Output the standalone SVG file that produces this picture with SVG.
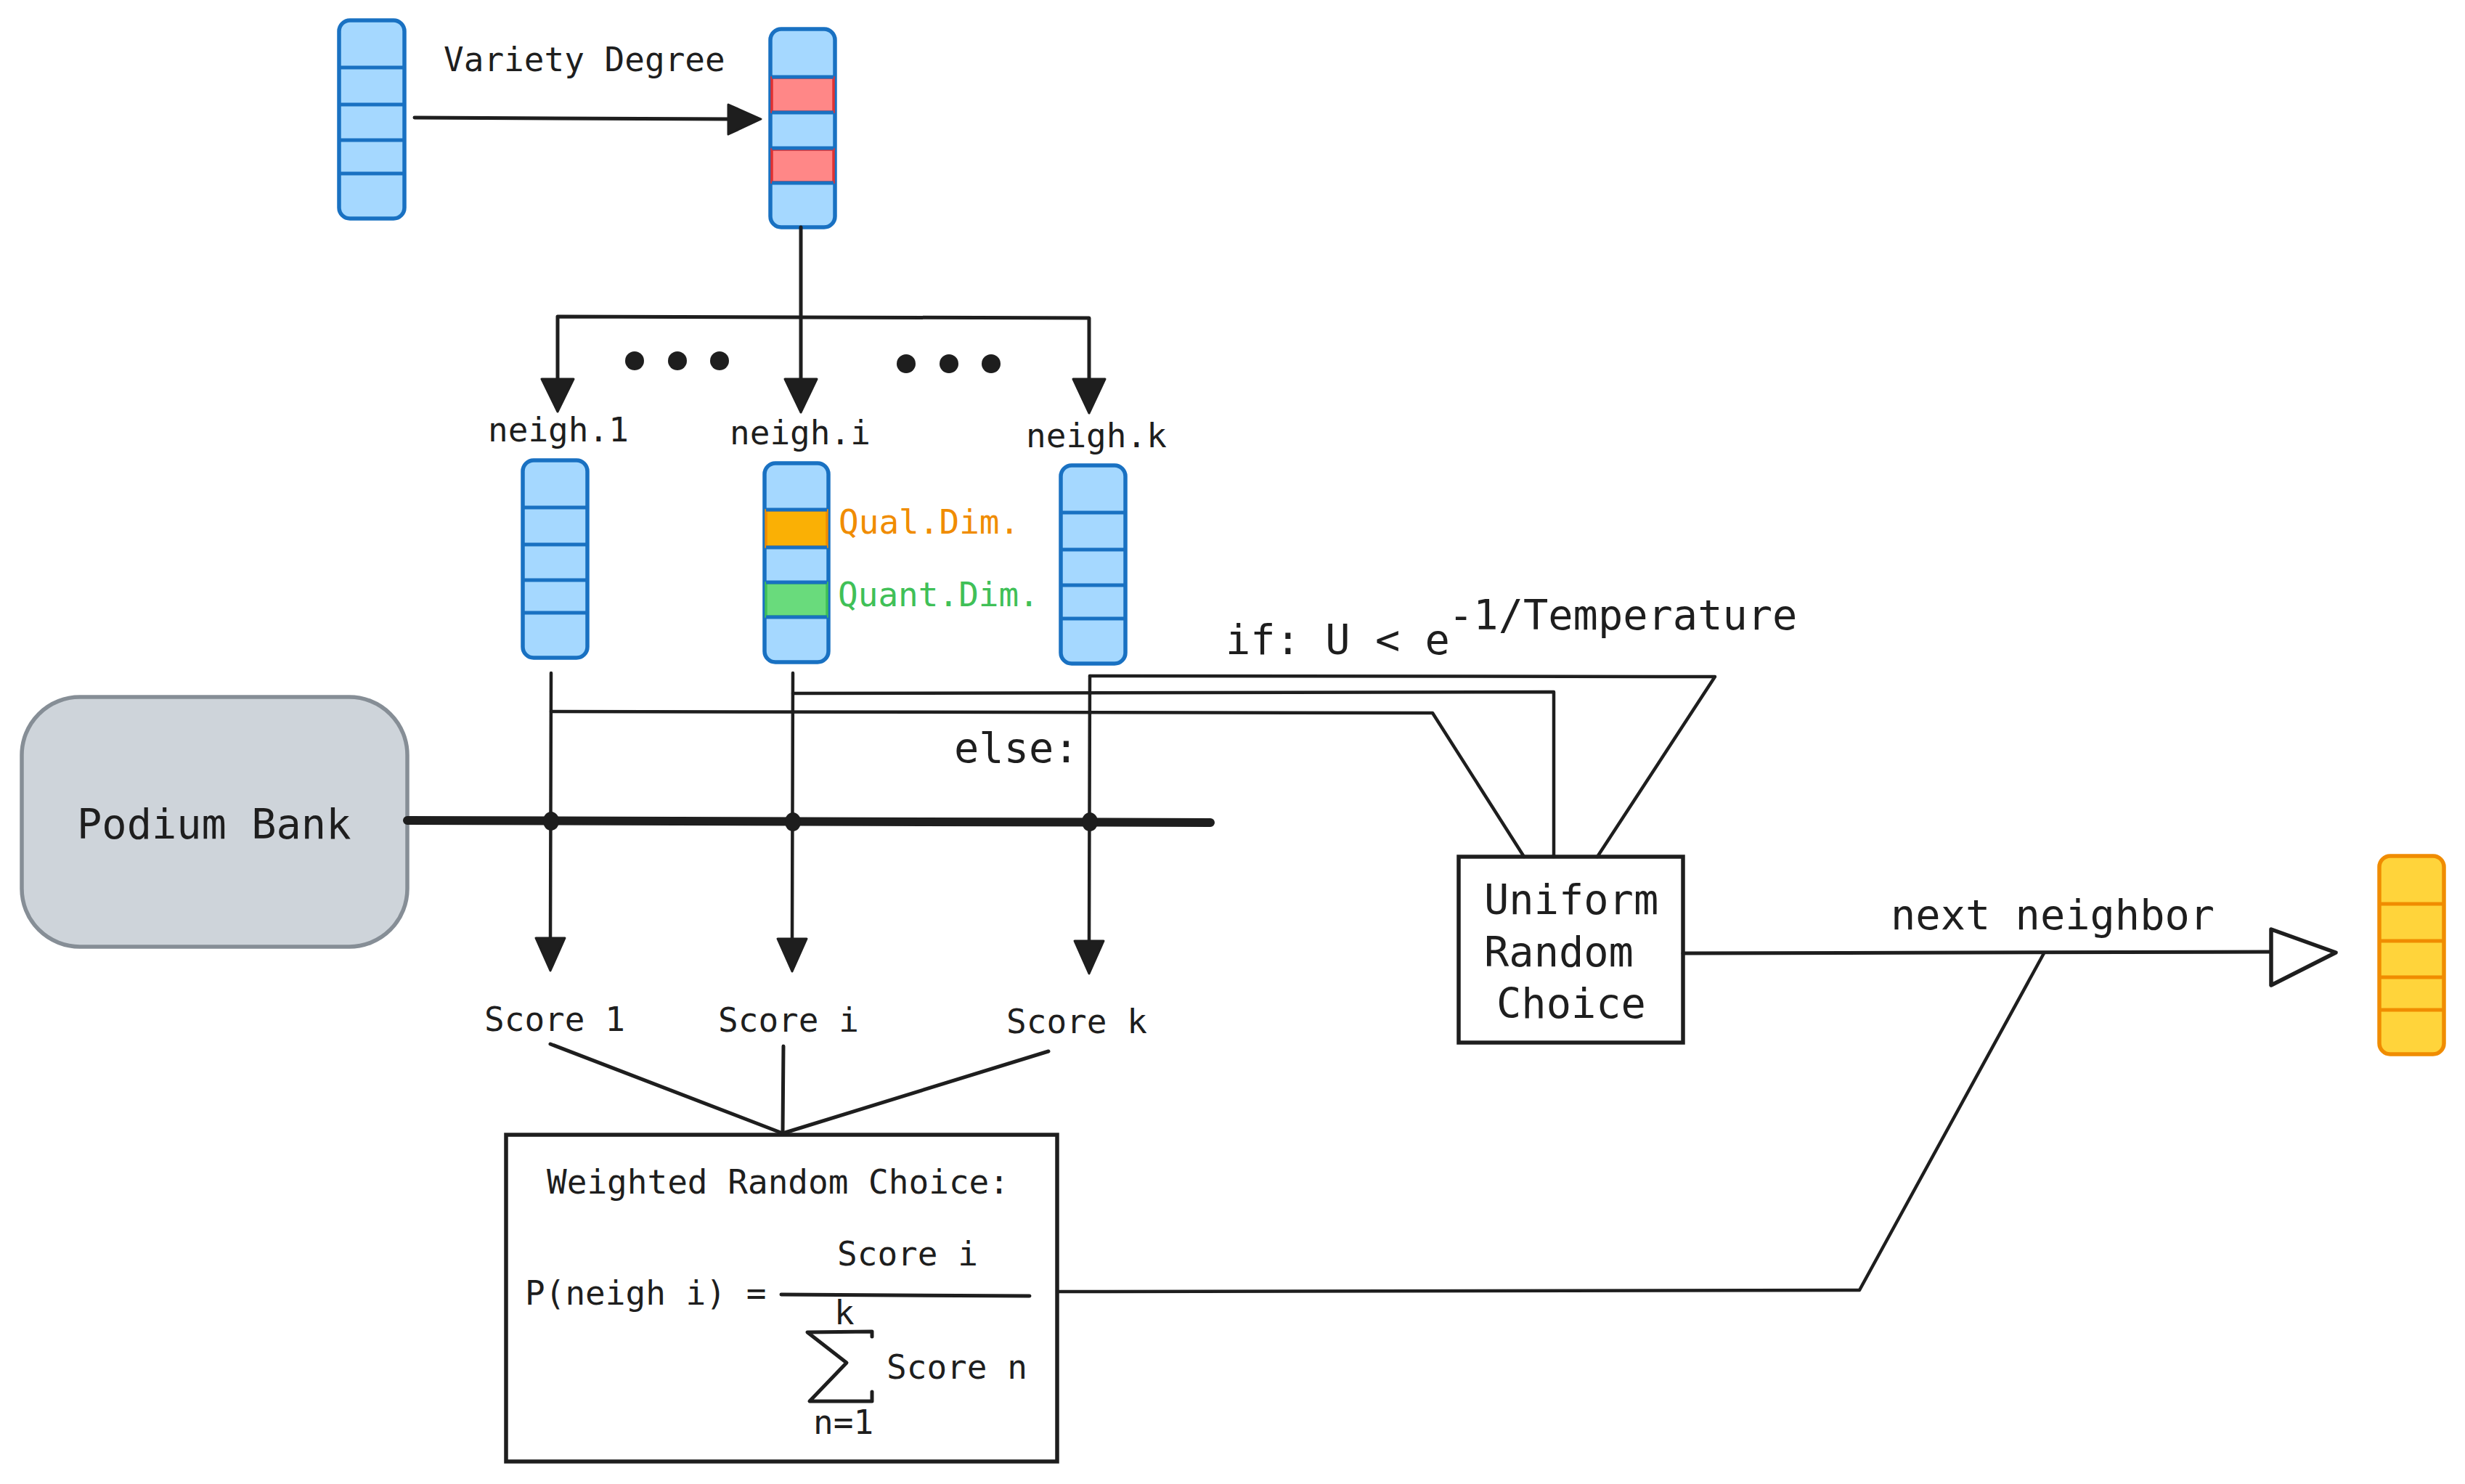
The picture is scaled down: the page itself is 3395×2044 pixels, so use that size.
<svg xmlns="http://www.w3.org/2000/svg" width="3395" height="2044" viewBox="0 0 3395 2044">
<style>
.t{font-family:"DejaVu Sans Mono","Liberation Mono",monospace;fill:#1e1e1e}
.s{font-size:46px}
.l{font-size:57px}
.vec{fill:#a5d8ff;stroke:#1971c2;stroke-width:5.5}
.div{stroke:#1971c2;stroke-width:5}
.ln{fill:none;stroke:#1e1e1e;stroke-width:5;stroke-linecap:round;stroke-linejoin:round}
.thin{fill:none;stroke:#1e1e1e;stroke-width:4.5;stroke-linecap:round;stroke-linejoin:round}
.head{fill:#1e1e1e;stroke:#1e1e1e;stroke-width:3;stroke-linejoin:round}
.box{fill:#ffffff;stroke:#1e1e1e;stroke-width:5.5}
</style>
<rect width="3395" height="2044" fill="#ffffff"/>

<g id="vec-input">
<rect class="vec" x="467" y="28" width="90" height="273" rx="15"/>
<line class="div" x1="469" y1="93" x2="555" y2="93"/>
<line class="div" x1="469" y1="144" x2="555" y2="144"/>
<line class="div" x1="469" y1="193" x2="555" y2="193"/>
<line class="div" x1="469" y1="239" x2="555" y2="239"/>
</g>

<g id="vec-variety">
<rect class="vec" x="1061" y="40" width="89" height="273" rx="15"/>
<rect x="1063" y="107" width="85" height="47" fill="#ff8787" stroke="#e03131" stroke-width="3.5"/>
<rect x="1063" y="206" width="85" height="45" fill="#ff8787" stroke="#e03131" stroke-width="3.5"/>
<line class="div" x1="1063" y1="106" x2="1148" y2="106"/>
<line class="div" x1="1063" y1="155" x2="1148" y2="155"/>
<line class="div" x1="1063" y1="204" x2="1148" y2="204"/>
<line class="div" x1="1063" y1="252" x2="1148" y2="252"/>
</g>

<g id="label-variety"><text class="t s" x="611" y="98">Variety Degree</text></g>

<g id="neigh-1">
<text class="t s" x="672" y="608">neigh.1</text>
<rect class="vec" x="720" y="634" width="89" height="272" rx="15"/>
<line class="div" x1="722" y1="699" x2="807" y2="699"/>
<line class="div" x1="722" y1="750" x2="807" y2="750"/>
<line class="div" x1="722" y1="799" x2="807" y2="799"/>
<line class="div" x1="722" y1="844" x2="807" y2="844"/>
</g>

<g id="neigh-i">
<text class="t s" x="1005" y="612">neigh.i</text>
<rect class="vec" x="1053" y="638" width="88" height="274" rx="15"/>
<rect x="1055" y="703" width="84" height="50" fill="#fab005" stroke="#f08c00" stroke-width="3.5"/>
<rect x="1055" y="803" width="84" height="46" fill="#69db7c" stroke="#40c057" stroke-width="3.5"/>
<line class="div" x1="1055" y1="702" x2="1139" y2="702"/>
<line class="div" x1="1055" y1="754" x2="1139" y2="754"/>
<line class="div" x1="1055" y1="802" x2="1139" y2="802"/>
<line class="div" x1="1055" y1="850" x2="1139" y2="850"/>
<text class="t s" x="1155" y="735" style="fill:#f08c00">Qual.Dim.</text>
<text class="t s" x="1154" y="835" style="fill:#40c057">Quant.Dim.</text>
</g>

<g id="neigh-k">
<text class="t s" x="1413" y="616">neigh.k</text>
<rect class="vec" x="1461" y="641" width="89" height="273" rx="15"/>
<line class="div" x1="1463" y1="706" x2="1548" y2="706"/>
<line class="div" x1="1463" y1="757" x2="1548" y2="757"/>
<line class="div" x1="1463" y1="806" x2="1548" y2="806"/>
<line class="div" x1="1463" y1="852" x2="1548" y2="852"/>
</g>

<g id="podium-bank">
<rect x="30" y="960" width="531" height="344" rx="80" fill="#ced4da" stroke="#868e96" stroke-width="5.5"/>
<text class="t l" x="106" y="1155">Podium Bank</text>
</g>

<g id="scores">
<text class="t s" x="667" y="1420">Score 1</text>
<text class="t s" x="989" y="1421">Score i</text>
<text class="t s" x="1386" y="1423">Score k</text>
</g>

<g id="weighted-choice">
<rect class="box" x="697" y="1563" width="759" height="450"/>
<text class="t s" x="753" y="1644">Weighted Random Choice:</text>
<text class="t s" x="723" y="1797">P(neigh i) =</text>
<text class="t s" x="1153" y="1743">Score i</text>
<line class="ln" x1="1076" y1="1783" x2="1418" y2="1785"/>
<text class="t s" x="1149" y="1824">k</text>
<path class="ln" d="M1201,1841 L1201,1834 L1112,1835 L1166,1877 L1115,1930 L1201,1930 L1201,1917"/>
<text class="t s" x="1221" y="1899">Score n</text>
<text class="t s" x="1120" y="1975">n=1</text>
</g>

<g id="uniform-choice">
<rect class="box" x="2009" y="1180" width="309" height="256"/>
<text class="t l" x="2044" y="1259">Uniform</text>
<text class="t l" x="2044" y="1331">Random</text>
<text class="t l" x="2061" y="1402">Choice</text>
</g>

<g id="vec-next">
<rect x="3277" y="1179" width="89" height="273" rx="15" fill="#ffd43b" stroke="#f08c00" stroke-width="5.5"/>
<line x1="3279" y1="1245" x2="3364" y2="1245" stroke="#f08c00" stroke-width="5"/>
<line x1="3279" y1="1296" x2="3364" y2="1296" stroke="#f08c00" stroke-width="5"/>
<line x1="3279" y1="1346" x2="3364" y2="1346" stroke="#f08c00" stroke-width="5"/>
<line x1="3279" y1="1391" x2="3364" y2="1391" stroke="#f08c00" stroke-width="5"/>
</g>

<g id="labels">
<text class="t l" x="1314" y="1050">else:</text>
<text class="t l" x="1688" y="901">if: U &lt; e</text>
<text class="t l" x="1995" y="867">-1/Temperature</text>
<text class="t l" x="2604" y="1280">next neighbor</text>
</g>

<g id="connectors">
<line class="ln" x1="571" y1="162" x2="1005" y2="164"/>
<polygon class="head" points="1003,144 1048,164 1003,185"/>
<line class="ln" x1="1103" y1="313" x2="1103" y2="524"/>
<path class="ln" d="M768,524 L768,436 L1500,438 L1500,524"/>
<polygon class="head" points="746,522 790,522 768,567"/>
<polygon class="head" points="1081,522 1125,522 1103,568"/>
<polygon class="head" points="1478,522 1522,522 1500,569"/>
<g fill="#1e1e1e">
<circle cx="874" cy="497" r="13"/><circle cx="933" cy="497" r="13"/><circle cx="991" cy="497" r="13"/>
<circle cx="1248" cy="501" r="13"/><circle cx="1307" cy="501" r="13"/><circle cx="1365" cy="501" r="13"/>
</g>
<line x1="561" y1="1130" x2="1667" y2="1133" stroke="#1e1e1e" stroke-width="12" stroke-linecap="round"/>
<line class="thin" x1="759" y1="927" x2="758" y2="1295"/>
<line class="thin" x1="1092" y1="927" x2="1091" y2="1295"/>
<line class="thin" x1="1501" y1="931" x2="1500" y2="1298"/>
<polygon class="head" points="738,1292 778,1292 758,1337"/>
<polygon class="head" points="1071,1293 1111,1293 1091,1338"/>
<polygon class="head" points="1480,1296 1520,1296 1500,1341"/>
<g fill="#1e1e1e">
<ellipse cx="759" cy="1131" rx="11" ry="13"/>
<ellipse cx="1092" cy="1132" rx="11" ry="13"/>
<ellipse cx="1501" cy="1132" rx="11" ry="13"/>
</g>
<path class="thin" d="M759,980 L1973,982 L2099,1180"/>
<path class="thin" d="M1092,955 L2140,953 L2140,1180"/>
<path class="thin" d="M1501,931 L2362,932 L2200,1180"/>
<line class="ln" x1="758" y1="1438" x2="1078" y2="1561"/>
<line class="ln" x1="1079" y1="1441" x2="1078" y2="1561"/>
<line class="ln" x1="1444" y1="1448" x2="1078" y2="1561"/>
<path class="thin" d="M1457,1779 L2561,1777 L2815,1313"/>
<line class="ln" x1="2318" y1="1313" x2="3128" y2="1311"/>
<polygon points="3128,1280 3217,1312 3128,1357" fill="#ffffff" stroke="#1e1e1e" stroke-width="5.5" stroke-linejoin="round"/>
</g>
</svg>
